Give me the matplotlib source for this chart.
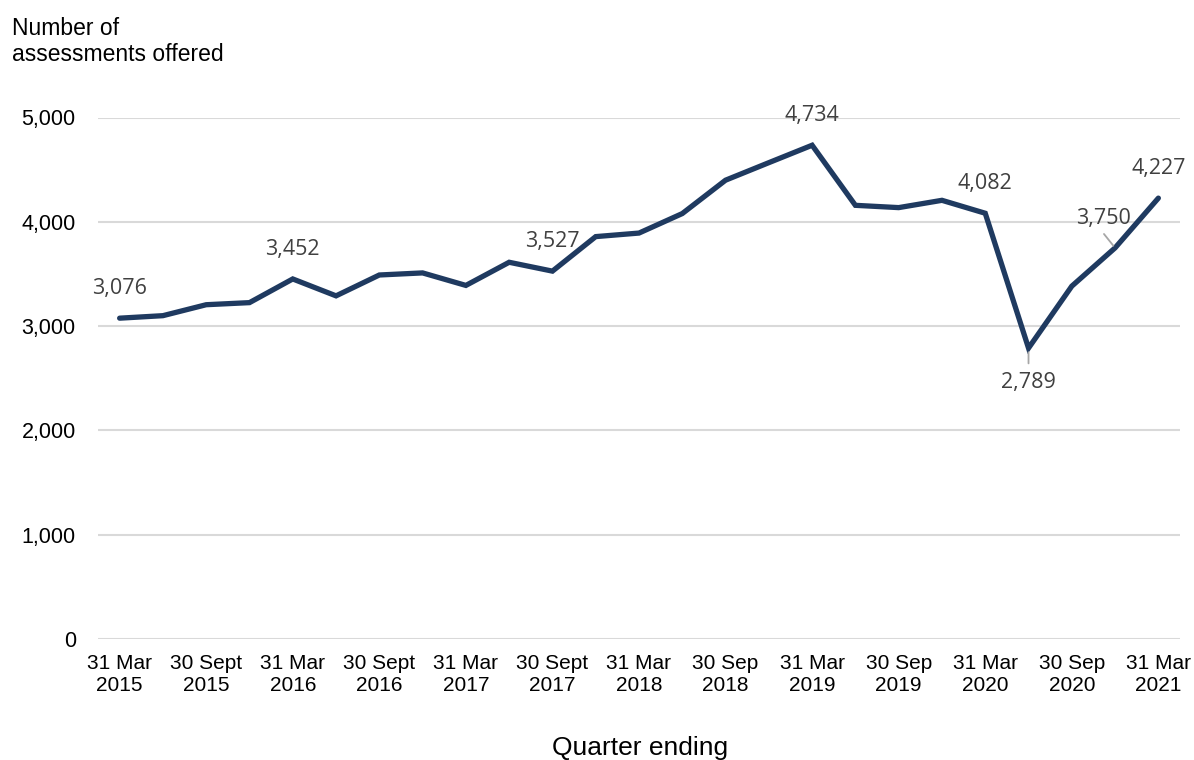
import numpy as np
import matplotlib
matplotlib.use("Agg")
from matplotlib import pyplot as plt

# данные: квартальные значения с марта 2015 по март 2021
quarters = ["Mar 2015", "Jun 2015", "Sep 2015", "Dec 2015",
            "Mar 2016", "Jun 2016", "Sep 2016", "Dec 2016",
            "Mar 2017", "Jun 2017", "Sep 2017", "Dec 2017",
            "Mar 2018", "Jun 2018", "Sep 2018", "Dec 2018",
            "Mar 2019", "Jun 2019", "Sep 2019", "Dec 2019",
            "Mar 2020", "Jun 2020", "Sep 2020", "Dec 2020",
            "Mar 2021"]
assessments = [3076, 3100, 3205, 3225,
               3452, 3290, 3490, 3510,
               3390, 3612, 3527, 3858,
               3892, 4079, 4399, 4567,
               4734, 4158, 4136, 4206,
               4082, 2789, 3383, 3750,
               4227]
tick_labels = ["31 Mar\n2015", "30 Sept\n2015", "31 Mar\n2016", "30 Sept\n2016",
               "31 Mar\n2017", "30 Sept\n2017", "31 Mar\n2018", "30 Sep\n2018",
               "31 Mar\n2019", "30 Sep\n2019", "31 Mar\n2020", "30 Sep\n2020",
               "31 Mar\n2021"]
labelled = [0, 4, 10, 16, 20, 21, 23, 24]
y_ticks = [0, 1000, 2000, 3000, 4000, 5000]

line_color = "#1f3a60"
grid_color = "#d9d9d9"
label_color = "#404040"
tick_font = "Liberation Sans"
label_font = "Open Sans"

fig = plt.figure(figsize=(11.94, 7.6), dpi=100)
ax = fig.add_axes([98 / 1194, 1 - 639 / 760, (1180 - 98) / 1194, (639 - 117.5) / 760])

x = np.arange(len(quarters))
ax.plot(x, assessments, color=line_color, linewidth=3.8,
        solid_joinstyle="miter", solid_capstyle="round", zorder=3)

ax.set_xlim(-0.5, 24.5)
ax.set_ylim(0, 5000)
ax.set_yticks(y_ticks)
ax.set_yticklabels([f"{v:,}" for v in y_ticks], fontfamily=tick_font, fontsize=15.5)
ax.set_xticks(x[::2])
ax.set_xticklabels(tick_labels, fontfamily=tick_font, fontsize=15, linespacing=1.2)
ax.tick_params(axis="both", length=0, colors="black")
ax.tick_params(axis="y", pad=16)
ax.tick_params(axis="x", pad=11)

ax.grid(axis="y", color=grid_color, linewidth=1.5, zorder=0)
ax.set_axisbelow(True)
for side in ["top", "right", "left", "bottom"]:
    ax.spines[side].set_visible(False)

# смещения подписей в пунктах (x, y)
offsets = {21: (0, -25), 23: (-8, 21.5)}
for i in labelled:
    dx, dy = offsets.get(i, (0, 21.5))
    ax.annotate(f"{assessments[i]:,}", (x[i], assessments[i]),
                xytext=(dx, dy), textcoords="offset points",
                ha="center", va="center", fontsize=15.5,
                fontfamily=label_font, color=label_color,
                annotation_clip=False, zorder=4)

# линии-выноски для 2,789 и 3,750
ax.annotate("", (x[21], assessments[21]), xytext=(0, -11), textcoords="offset points",
            arrowprops=dict(arrowstyle="-", color="#a6a6a6", lw=1.3,
                            shrinkA=0, shrinkB=3))
ax.annotate("", (x[23], assessments[23]), xytext=(-8, 10), textcoords="offset points",
            arrowprops=dict(arrowstyle="-", color="#a6a6a6", lw=1.3,
                            shrinkA=0, shrinkB=2))

fig.text(12 / 1194, 1 - 17 / 760, "Number of\nassessments offered",
         fontfamily=tick_font, fontsize=16.5, ha="left", va="top",
         linespacing=1.15)
fig.text(640 / 1194, 1 - 748 / 760, "Quarter ending",
         fontfamily=tick_font, fontsize=19, ha="center", va="center")

fig.savefig("out.png", dpi=100)
